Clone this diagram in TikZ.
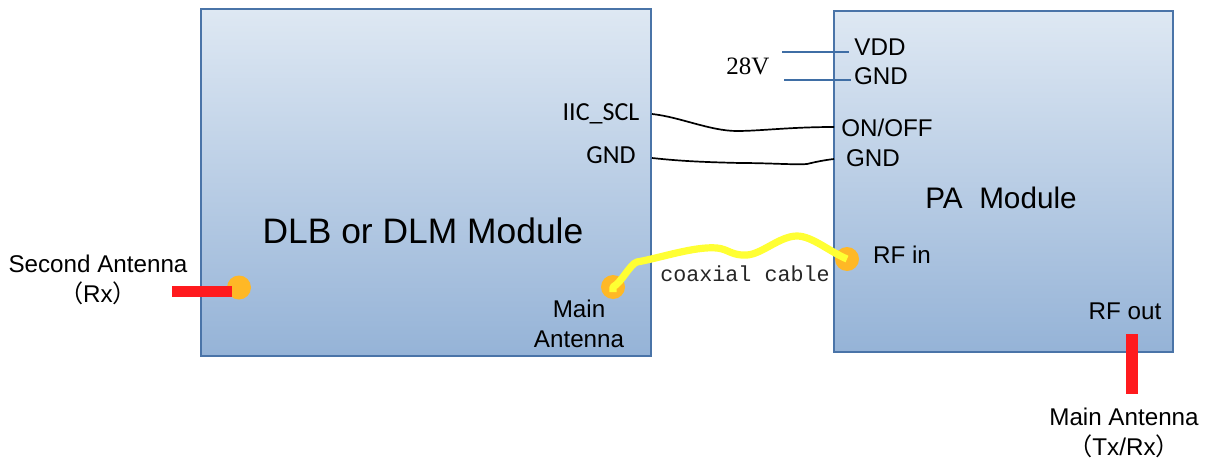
\documentclass[tikz,border=0pt]{standalone}
\usepackage{fontspec}
\setmainfont{Liberation Sans}
\newfontfamily\cjk{Noto Sans CJK SC}
\newfontfamily\narrowf{Carlito}
\newfontfamily\monof{Liberation Mono}
\newfontfamily\seriff{Liberation Serif}
\usetikzlibrary{positioning}
\definecolor{boxedge}{HTML}{4A74A8}
\definecolor{boxtop}{HTML}{DEE8F3}
\definecolor{boxbot}{HTML}{95B3D7}
\definecolor{dotc}{HTML}{FFB826}
\definecolor{barc}{HTML}{FF1A1E}
\definecolor{coax}{HTML}{FFFF33}
\definecolor{railc}{HTML}{3F6EA5}
\tikzset{
  module/.style={draw=boxedge,line width=1.5pt,top color=boxtop,bottom color=boxbot,inner sep=0pt,minimum width=#1},
  port/.style={circle,fill=dotc,inner sep=0pt,minimum size=24pt},
  lab/.style={inner sep=0pt,font=\fontsize{24.2}{27}\selectfont,align=center},
  sig/.style={inner sep=0pt,font=\narrowf\fontsize{26}{29}\selectfont},
  wire/.style={black,line width=1.7pt},
  rail/.style={railc,line width=1.5pt},
  cable/.style={coax,line width=7.2pt,line join=round}
}
\begin{document}
\begin{tikzpicture}[x=1pt,y=-1pt]
\useasboundingbox (0,0) rectangle (1209,460);
\node[module=450pt,minimum height=347pt] (dlb) at (426,182.5) {};
\node[module=339pt,minimum height=341pt] (pa) at (1003.5,181.5) {};

\node[inner sep=0pt,font=\fontsize{35.4}{40}\selectfont] (dlbt) at (423,231) {DLB or DLM Module};
\node[inner sep=0pt,font=\fontsize{29.7}{33}\selectfont] (pat) at (1001,198) {PA\ \ Module};

\node[port] (p2) at (239,287.5) {};
\node[port] (pm) at (613,287) {};
\node[port] (pr) at (847,259) {};

\fill[barc] (172,286) rectangle (232,297);
\fill[barc] (1126,334) rectangle (1138,394);

\coordinate (c1) at (637,262);
\draw[cable] (pm.center) ++(0,5) -- (pm.center) .. controls (622,282) and (630,264) .. (c1)
  .. controls (660,258) and (695,246) .. (717,248)
  .. controls (728,249) and (732,256) .. (747,255)
  .. controls (762,254) and (780,236) .. (797,236)
  .. controls (812,236) and (830,252) .. (pr.center);

\coordinate (sclL) at (652,114);
\coordinate (sclR) at (834,127);
\coordinate (gndL) at (652,158);
\coordinate (gndR) at (834,159);
\draw[wire] (sclL) .. controls (680,117) and (710,131) .. (737,131)
  .. controls (760,131) and (790,127) .. (sclR);
\draw[wire] (gndL) .. controls (680,161) and (700,162) .. (740,163)
  .. controls (770,163) and (795,165) .. (807,164) .. controls (815,162) and (825,160) .. (gndR);

\coordinate (vddL) at (782,52);
\coordinate (vddR) at (849,52);
\coordinate (vssL) at (784,80);
\coordinate (vssR) at (851,80);
\draw[rail] (vddL) -- (vddR);
\draw[rail] (vssL) -- (vssR);

\node[lab] (vdd) at (880,47) {VDD};
\node[lab] (gnd1) at (881,76) {GND};
\node[inner sep=0pt,font=\seriff\fontsize{25}{28}\selectfont] (v28) at (748,66) {28V};
\node[sig] (scl) at (601,114) {IIC\_SCL};
\node[sig] (gnd2) at (611,155) {GND};
\node[lab] (onoff) at (887,128) {ON/OFF};
\node[lab] (gnd3) at (873,158) {GND};
\node[lab] (rfin) at (902,255) {RF in};
\node[lab] (rfout) at (1125,311) {RF out};
\node[lab] (mainl) at (579,324) {Main\\[3pt]Antenna};
\node[inner sep=0pt,font=\monof\fontsize{21.7}{26}\selectfont,text=black!85] (coaxl) at (745,274) {coaxial cable};
\node[lab] (sec) at (98,280) {Second Antenna\\[3pt]{\cjk （}Rx{\cjk ）}};
\node[lab] (mant) at (1124,432.5) {Main Antenna\\[3pt]{\cjk （}Tx/Rx{\cjk ）}};
\end{tikzpicture}
\end{document}
